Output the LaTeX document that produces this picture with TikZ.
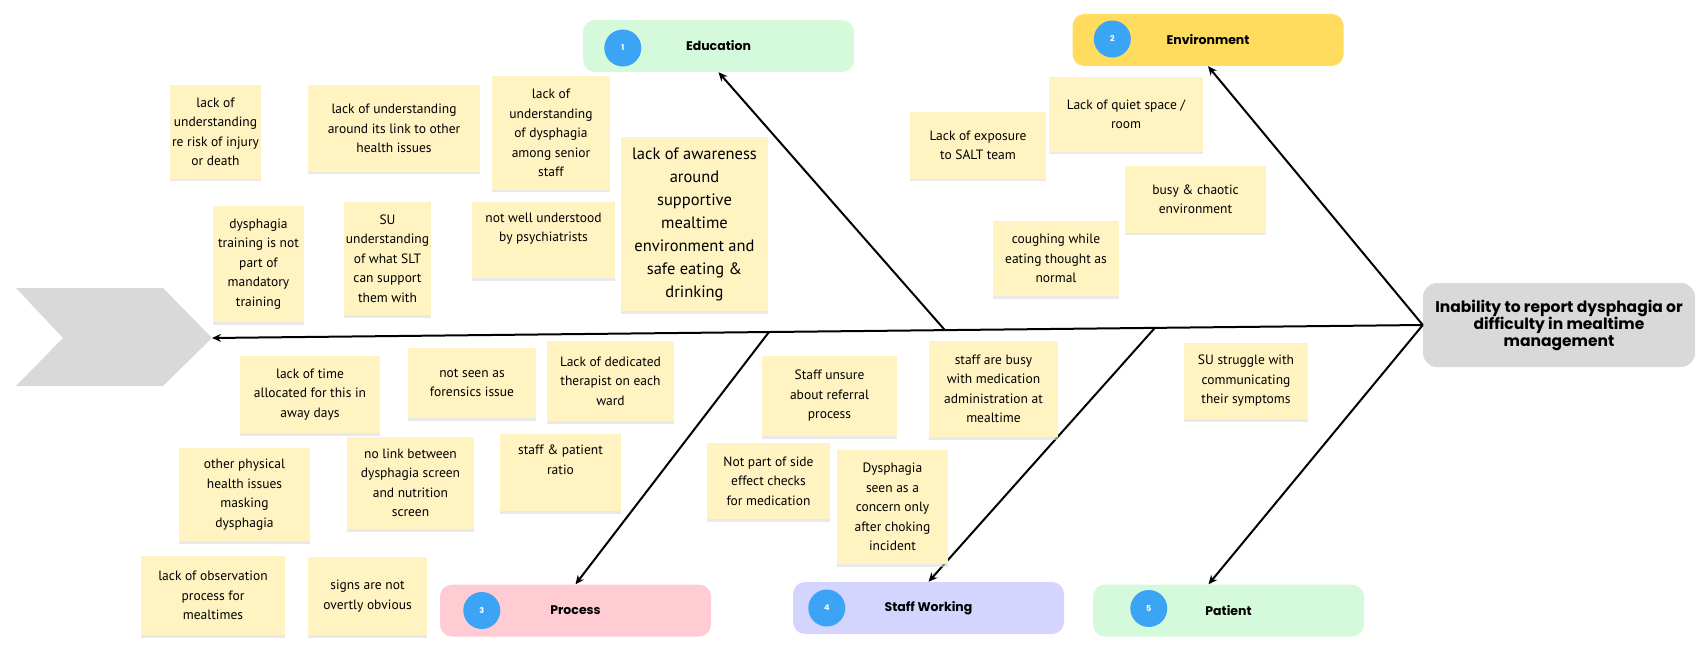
\documentclass[tikz,border=0pt]{standalone}
\usepackage{fontspec}
\setmainfont{PT Sans}
\newfontfamily\popfont{Poppins}
\usetikzlibrary{arrows.meta,shadows,calc}
\definecolor{stickyc}{HTML}{FFF3C2}
\definecolor{edugreen}{HTML}{D4FADB}
\definecolor{envyellow}{HTML}{FFDB5E}
\definecolor{procpink}{HTML}{FFCCD4}
\definecolor{stafflav}{HTML}{D3D5FE}
\definecolor{numblue}{HTML}{3BA4F4}
\definecolor{greyc}{HTML}{D9D9D9}
\begin{document}
\begin{tikzpicture}[x=1pt,y=-1pt,
  sticky/.style={fill=stickyc, draw=none, align=center, inner sep=2pt,
    font=\fontsize{13.5}{19.5}\selectfont,
    drop shadow={shadow xshift=0pt, shadow yshift=-2.5pt, fill=black!14, opacity=0.6}},
  catbox/.style={draw=none, rounded corners=12pt, minimum width=271pt, minimum height=52pt,
    font=\popfont\bfseries\fontsize{12.5}{15}\selectfont},
  numc/.style={circle, fill=numblue, draw=none, minimum size=37pt, inner sep=0pt,
    text=white, font=\popfont\bfseries\fontsize{8}{9}\selectfont},
  arr/.style={draw=black, line width=2pt, -{Stealth[length=9pt,width=8pt]}},
  bone/.style={draw=black, line width=2pt}
]
\useasboundingbox (0,0) rectangle (1704,660);

% head / chevron
\fill[greyc] (16,288) -- (163,288) -- (212,338) -- (163,386) -- (16,386) -- (63,338) -- cycle;
\coordinate (tip) at (212,338);

% effect box
\node[fill=greyc, rounded corners=14pt, minimum width=272pt, minimum height=84pt, align=center,
  font=\popfont\bfseries\fontsize{15.5}{17}\selectfont] (eff) at (1559,325)
  {Inability to report dysphagia or\\difficulty in mealtime\\management};

% category boxes
\node[catbox, fill=edugreen] (edu) at (718.5,46) {Education};
\node[catbox, fill=envyellow] (env) at (1208,40) {Environment};
\node[catbox, fill=procpink] (proc) at (575.5,610.5) {Process};
\node[catbox, fill=stafflav] (staff) at (928.5,608) {Staff Working};
\node[catbox, fill=edugreen] (pat) at (1228.5,610.5) {Patient};

\node[numc] (n1) at ($(edu.west)+(40,2)$) {1};
\node[numc] (n2) at ($(env.west)+(40,-1)$) {2};
\node[numc] (n3) at ($(proc.west)+(42,0)$) {3};
\node[numc] (n4) at ($(staff.west)+(34,0)$) {4};
\node[numc] (n5) at ($(pat.west)+(56,-2)$) {5};

% spine and bones
\coordinate (bedu) at ($(eff.west)!0.3947!(tip)$);
\coordinate (bstaff) at ($(eff.west)!0.2213!(tip)$);
\coordinate (bproc) at ($(eff.west)!0.540!(tip)$);
\draw[arr] (eff.west) -- (tip);
\draw[arr] (eff.west) -- (env.south);
\draw[arr] (eff.west) -- ([xshift=-20pt]pat.north);
\draw[arr] (bedu) -- (edu.south);
\draw[arr] (bstaff) -- (staff.north);
\draw[arr] (bproc) -- (proc.north);

% Education stickies
\node[sticky, minimum width=89pt, minimum height=94pt] (s1) at (215.5,132) {lack of\\understanding\\re risk of injury\\or death};
\node[sticky, minimum width=172pt, minimum height=87pt] (s2) at (394,128.5) {lack of understanding\\around its link to other\\health issues};
\node[sticky, minimum width=118pt, minimum height=114pt] (s3) at (551,133) {lack of\\understanding\\of dysphagia\\among senior\\staff};
\node[sticky, minimum width=147pt, minimum height=174pt, font=\fontsize{16.5}{23}\selectfont] (s4) at (694.5,224) {lack of awareness\\around\\supportive\\mealtime\\environment and\\safe eating \&\\drinking};
\node[sticky, minimum width=91pt, minimum height=116pt] (s5) at (258.5,264) {dysphagia\\training is not\\part of\\mandatory\\training};
\node[sticky, minimum width=83pt, minimum height=113pt] (s6) at (387.5,258.5) {SU\\understanding\\of what SLT\\can support\\them with};
\node[sticky, minimum width=143pt, minimum height=76pt] (s7) at (543.5,240) {not well understood\\by psychiatrists\\[6pt]};

% Environment stickies
\node[sticky, minimum width=136pt, minimum height=67pt] (s8) at (978,145.5) {Lack of exposure\\to SALT team};
\node[sticky, minimum width=154pt, minimum height=75pt] (s9) at (1126,114.5) {Lack of quiet space /\\room};
\node[sticky, minimum width=141pt, minimum height=67pt] (s10) at (1195.5,199.5) {busy \& chaotic\\environment};
\node[sticky, minimum width=126pt, minimum height=75pt] (s11) at (1056,258.5) {coughing while\\eating thought as\\normal};

% Process stickies
\node[sticky, minimum width=140pt, minimum height=77pt] (s12) at (310,394.5) {lack of time\\allocated for this in\\away days};
\node[sticky, minimum width=128pt, minimum height=70pt] (s13) at (472,383) {not seen as\\forensics issue};
\node[sticky, minimum width=127pt, minimum height=80pt] (s14) at (610.5,381) {Lack of dedicated\\therapist on each\\ward};
\node[sticky, minimum width=131pt, minimum height=93pt] (s15) at (244.5,494.5) {other physical\\health issues\\masking\\dysphagia};
\node[sticky, minimum width=127pt, minimum height=92pt] (s16) at (410.5,483) {no link between\\dysphagia screen\\and nutrition\\screen};
\node[sticky, minimum width=121pt, minimum height=77pt] (s17) at (560.5,472.5) {staff \& patient\\ratio\\[6pt]};
\node[sticky, minimum width=144pt, minimum height=79pt] (s18) at (213,595.5) {lack of observation\\process for\\mealtimes};
\node[sticky, minimum width=119pt, minimum height=78pt] (s19) at (367.5,596) {signs are not\\overtly obvious};

% Staff Working stickies
\node[sticky, minimum width=135pt, minimum height=80pt] (s20) at (829.5,396) {Staff unsure\\about referral\\process};
\node[sticky, minimum width=129pt, minimum height=96pt] (s21) at (993.5,389) {staff are busy\\with medication\\administration at\\mealtime};
\node[sticky, minimum width=123pt, minimum height=76pt] (s22) at (768.5,481) {Not part of side\\effect checks\\for medication};
\node[sticky, minimum width=111pt, minimum height=114pt] (s23) at (892.5,507) {Dysphagia\\seen as a\\concern only\\after choking\\incident};

% Patient sticky
\node[sticky, minimum width=124pt, minimum height=76pt] (s24) at (1246,381) {SU struggle with\\communicating\\their symptoms};
\end{tikzpicture}
\end{document}
